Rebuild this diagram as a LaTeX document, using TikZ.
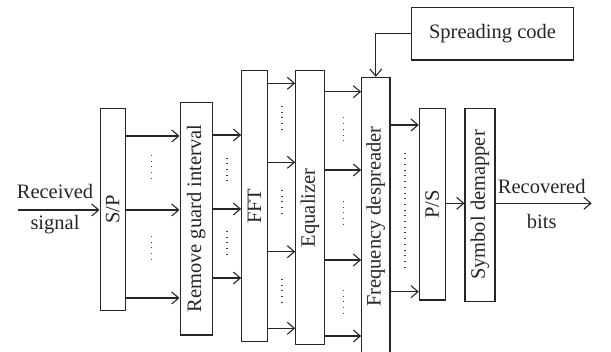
\documentclass[tikz,border=0pt]{standalone}
\usepackage{fontspec}
\setmainfont{Liberation Serif}
\usepackage{graphicx}
\usetikzlibrary{arrows.meta}
\begin{document}
\begin{tikzpicture}[x=1pt,y=-1pt,
  line width=1.1pt, draw=black!85,
  every node/.style={font=\fontsize{20.5}{24}\selectfont, text=black!85, inner sep=0pt},
  blk/.style={draw, rectangle, line width=1.1pt},
  arr/.style={-{Straight Barb[length=7pt,width=12pt,line width=1.1pt]}},
  dts/.style={line width=1.2pt, draw=black!75, dash pattern=on 1pt off 4.7pt}]
\useasboundingbox (0,0) rectangle (611,352);
% blocks
\node[blk, minimum width=25.3pt, minimum height=202.4pt] (sp) at (112.7,209.5) {\rotatebox{90}{S/P}};
\node[blk, minimum width=32.3pt, minimum height=232.7pt] (rgi) at (196.2,218.7) {\rotatebox{90}{Remove guard interval}};
\node[blk, minimum width=25.6pt, minimum height=270.7pt] (fft) at (254.5,206.3) {\rotatebox{90}{FFT}};
\node[blk, minimum width=28.6pt, minimum height=274.3pt] (eq) at (310,207.8) {\rotatebox{90}{Equalizer}};
\node[blk, minimum width=28.3pt, minimum height=278.7pt] (fd) at (375.8,216.7) {\rotatebox{90}{Frequency despreader}};
\node[blk, minimum width=161.6pt, minimum height=52.7pt] (sc) at (492.5,33.7) {Spreading code};
\node[blk, minimum width=25.7pt, minimum height=191.7pt] (ps) at (432.2,204.2) {\rotatebox{90}{P/S}};
\node[blk, minimum width=30pt, minimum height=193.4pt] (sd) at (480,205) {\rotatebox{90}{Symbol demapper}};
% labels
\node (rx1) at (55,191.7) {Received};
\node (rx2) at (55,225) {signal};
\node (ob1) at (541.7,186.7) {Recovered};
\node (ob2) at (541.7,221.7) {bits};
\coordinate (in) at (18,210);
\coordinate (out) at (591.7,203.3);
% connectors
\draw[arr] (in) -- (sp.west |- in);
\foreach \y in {136,210,298} \draw[arr] (sp.east |- 0,\y) -- (rgi.west |- 0,\y);
\foreach \y in {135,209,278} \draw[arr] (rgi.east |- 0,\y) -- (fft.west |- 0,\y);
\foreach \y in {83.3,162.3,251.7,328.3} \draw[arr] (fft.east |- 0,\y) -- (eq.west |- 0,\y);
\foreach \y in {91.7,170,260,336} \draw[arr] (eq.east |- 0,\y) -- (fd.west |- 0,\y);
\foreach \y in {125,291.7} \draw[arr] (fd.east |- 0,\y) -- (ps.west |- 0,\y);
\draw[arr] (ps.east |- 0,203.3) -- (sd.west |- 0,203.3);
\draw[arr] (sd.east |- out) -- (out);
\draw[arr] (sc.west) -| (fd.north);
% dots
\foreach \x/\c in {151.5/169,151.5/250,227/171.7,227/245,282/120,282/204,282/293,343.5/131.5,343.5/215,343.5/304}
  \draw[dts] (\x,\c-14) -- (\x,\c+14);
\draw[dts] (405,152.7) -- (405,268);
\end{tikzpicture}
\end{document}
